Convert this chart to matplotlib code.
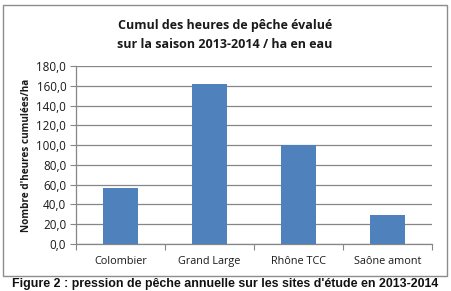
import matplotlib
matplotlib.use("Agg")
import matplotlib.pyplot as plt
from matplotlib.patches import Rectangle
from matplotlib.ticker import FuncFormatter, FixedLocator
import numpy as np

categories = ["Colombier", "Grand Large", "Rhône TCC", "Saône amont"]
values = [56.6, 162.3, 100.0, 29.4]
yticks = [0, 20, 40, 60, 80, 100, 120, 140, 160, 180]
title = "Cumul des heures de pêche évalué\nsur la saison 2013-2014 / ha en eau"
ylabel = "Nombre d'heures cumulées/ha"
caption = "Figure 2 : pression de pêche annuelle sur les sites d'étude en 2013-2014"

W, H = 451, 291
fig = plt.figure(figsize=(W/100, H/100), dpi=100)
fig.patch.set_facecolor("white")

font = ["Open Sans", "DejaVu Sans"]
grid_c = "#868686"
bar_c = "#4F81BD"
text_c = "#1a1a1a"

# outer chart frame
fig.patches.append(Rectangle((3/W, 1-276/H), 444/W, 271/H, transform=fig.transFigure,
                             fill=False, edgecolor="#8c8c8c", linewidth=1.0))

ax = fig.add_axes([76/W, 1-244/H, 356/W, 178/H])
x = np.arange(len(categories))
ax.bar(x, values, width=0.4, color=bar_c, zorder=3)
ax.set_xlim(-0.5, len(categories)-0.5)
ax.set_ylim(0, 180)
ax.set_yticks(yticks)
ax.yaxis.set_major_formatter(FuncFormatter(lambda v, p: f"{v:.1f}".replace(".", ",")))
ax.set_xticks(x)
ax.set_xticklabels(categories, fontsize=7.8, family=font, color=text_c)
for lab in ax.get_xticklabels():
    lab.set_verticalalignment("baseline")
ax.xaxis.set_minor_locator(FixedLocator(np.arange(-0.5, len(categories), 1.0)))
ax.tick_params(axis="x", which="major", length=0, pad=14.5)
ax.tick_params(axis="x", which="minor", length=4, color=grid_c, width=0.8)
ax.tick_params(axis="y", length=4, color=grid_c, width=0.8, labelsize=8.4, pad=3, labelcolor=text_c)
for lab in ax.get_yticklabels():
    lab.set_family(font)
ax.grid(axis="y", color=grid_c, linewidth=0.9, zorder=0)
for s in ["top", "right"]:
    ax.spines[s].set_visible(False)
for s in ["left", "bottom"]:
    ax.spines[s].set_color(grid_c)
    ax.spines[s].set_linewidth(0.9)

ax.set_ylabel(ylabel, fontsize=7.2, fontweight="bold", family=font, color=text_c, labelpad=3)

fig.text(225/W, 1-35/H, title, ha="center", va="center", fontsize=9.0, fontweight="bold",
         family=font, color=text_c, linespacing=1.6)
fig.text(225/W, 1-284/H, caption, ha="center", va="center", fontsize=8.9, fontweight="bold",
         family=["Liberation Sans", "DejaVu Sans"], color="#111111")

fig.savefig("out.png", dpi=100)
